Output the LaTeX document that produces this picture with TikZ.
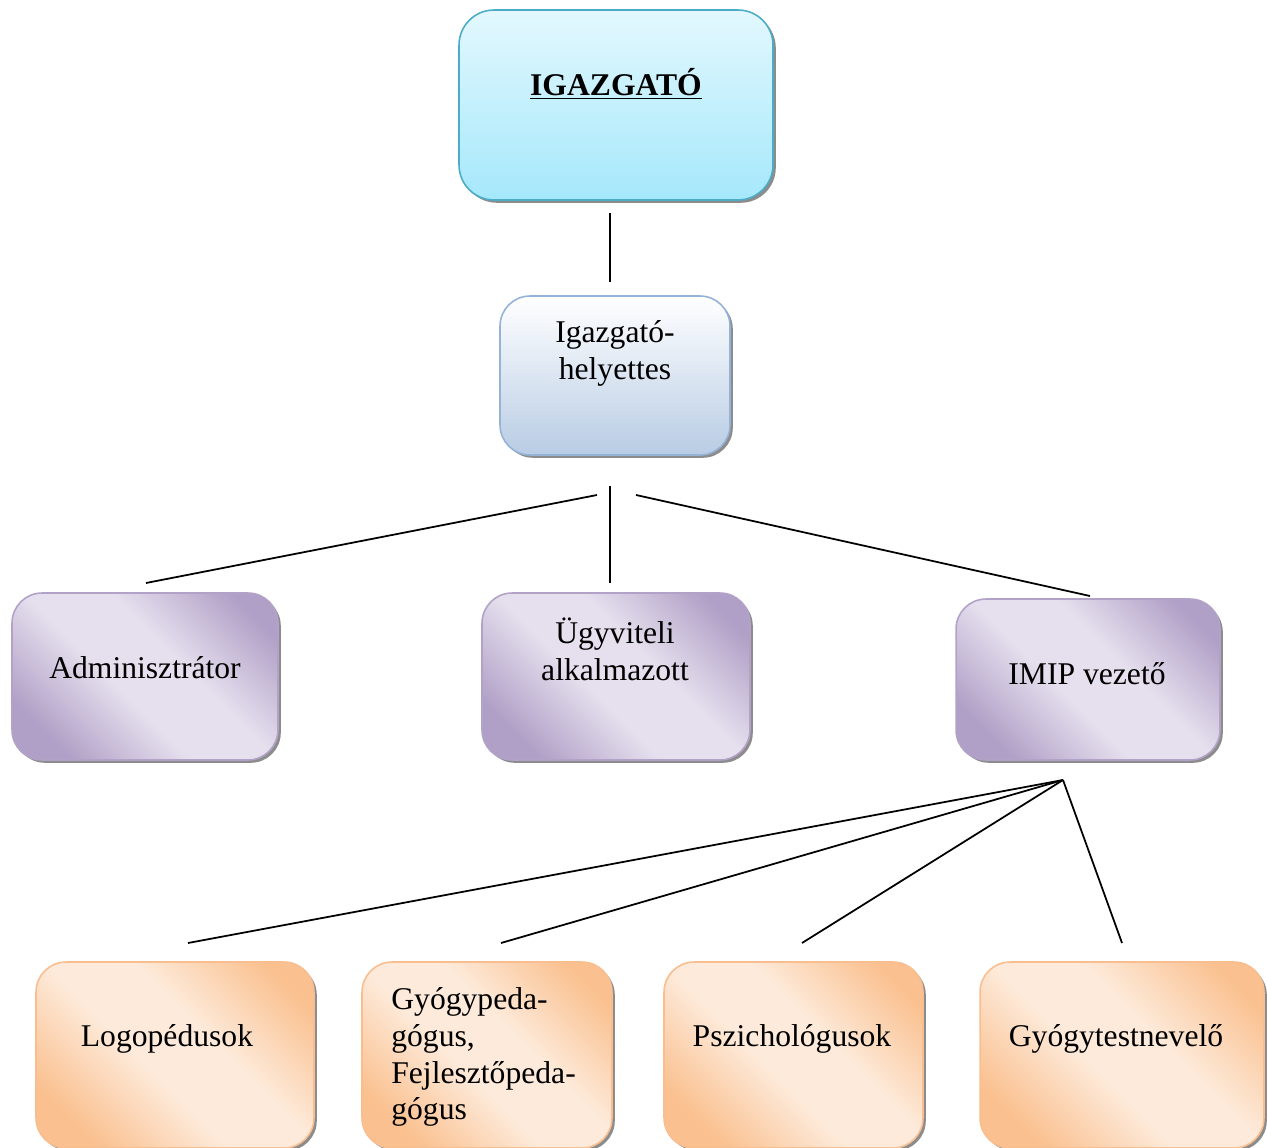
\documentclass[tikz,border=0pt]{standalone}
\usepackage{fontspec}
\setmainfont{Liberation Serif}
\usetikzlibrary{shadows}
\definecolor{cyanTop}{HTML}{E3F8FE}
\definecolor{cyanBot}{HTML}{A5E8FB}
\definecolor{cyanLine}{HTML}{4BACC6}
\definecolor{blueBot}{HTML}{B8CCE4}
\definecolor{blueLine}{HTML}{95B3D7}
\definecolor{purDark}{HTML}{B09FC6}
\definecolor{purLight}{HTML}{E6E0EE}
\definecolor{purLine}{HTML}{B3A2C7}
\definecolor{orDark}{HTML}{FAC08F}
\definecolor{orLight}{HTML}{FDEADA}
\definecolor{orLine}{HTML}{F9BE8F}
\pgfdeclareverticalshading{purshade}{100bp}{color(0bp)=(purDark); color(24bp)=(purDark); color(44bp)=(purLight); color(58bp)=(purLight); color(78bp)=(purDark); color(100bp)=(purDark)}
\pgfdeclareverticalshading{orshade}{100bp}{color(0bp)=(orDark); color(24bp)=(orDark); color(44bp)=(orLight); color(58bp)=(orLight); color(78bp)=(orDark); color(100bp)=(orDark)}
\tikzset{
  basebox/.style={draw, line width=0.9pt, inner sep=0pt,
    drop shadow={shadow xshift=1.6pt, shadow yshift=-1.6pt, fill=black!45, opacity=1}},
  topbox/.style={basebox, draw=cyanLine, rounded corners=0.7cm, top color=cyanTop, bottom color=cyanBot},
  helbox/.style={basebox, draw=blueLine, rounded corners=0.6cm, top color=white, bottom color=blueBot},
  purbox/.style={basebox, draw=purLine, rounded corners=0.6cm, shading=purshade, shading angle=-45},
  orbox/.style={basebox, draw=orLine, rounded corners=0.6cm, shading=orshade, shading angle=-45},
  lbl/.style={font=\fontsize{18}{21}\selectfont, align=center, inner sep=0pt},
  conn/.style={line width=1pt, black}
}
\begin{document}
\begin{tikzpicture}[x=0.02cm, y=-0.02cm]
\useasboundingbox (0,0) rectangle (1267,1148);
% boxes
\node[topbox, minimum width=6.28cm, minimum height=3.8cm] (top) at (616,105) {};
\node[helbox, minimum width=4.6cm, minimum height=3.18cm] (hel) at (615,375.5) {};
\node[purbox, minimum width=5.32cm, minimum height=3.34cm] (adm) at (145,676.5) {};
\node[purbox, minimum width=5.36cm, minimum height=3.34cm] (ugy) at (616,676.5) {};
\node[purbox, minimum width=5.28cm, minimum height=3.22cm] (imip) at (1088,679.5) {};
\node[orbox, minimum width=5.56cm, minimum height=3.72cm] (logo) at (175,1055) {};
\node[orbox, minimum width=5.0cm, minimum height=3.72cm] (gyp) at (487,1055) {};
\node[orbox, minimum width=5.18cm, minimum height=3.72cm] (psz) at (793.5,1055) {};
\node[orbox, minimum width=5.68cm, minimum height=3.72cm] (gyt) at (1122,1055) {};
% texts
\node[lbl] (ttop) at (616,84) {\textbf{\underline{IGAZGATÓ}}};
\node[lbl] (thel) at (615,353) {Igazgató-\\helyettes};
\node[lbl] (tadm) at (145,668) {Adminisztrátor};
\node[lbl] (tugy) at (615,649) {Ügyviteli\\alkalmazott};
\node[lbl] (timip) at (1087,674) {IMIP vezető};
\node[lbl] (tlogo) at (167,1039) {Logopédusok};
\node[lbl, align=left, anchor=west] (tgyp) at (391,1057) {Gyógypeda-\\gógus,\\Fejlesztőpeda-\\gógus};
\node[lbl] (tpsz) at (792,1039) {Pszichológusok};
\node[lbl] (tgyt) at (1116,1039) {Gyógytestnevelő};
% connector endpoints
\coordinate (a1) at (610,213);
\coordinate (a2) at (610,282);
\coordinate (b0) at (610,486);
\coordinate (bl) at (597,495);
\coordinate (br) at (636,495);
\coordinate (b1) at (146,583);
\coordinate (b2) at (610,583);
\coordinate (b3) at (1090,596);
\coordinate (c0) at (1063,780);
\coordinate (c1) at (188,943);
\coordinate (c2) at (501,943);
\coordinate (c3) at (802,943);
\coordinate (c4) at (1122,943);
% connectors
\draw[conn] (a1) -- (a2);
\draw[conn] (bl) -- (b1);
\draw[conn] (b0) -- (b2);
\draw[conn] (br) -- (b3);
\draw[conn] (c0) -- (c1);
\draw[conn] (c0) -- (c2);
\draw[conn] (c0) -- (c3);
\draw[conn] (c0) -- (c4);
\end{tikzpicture}
\end{document}
